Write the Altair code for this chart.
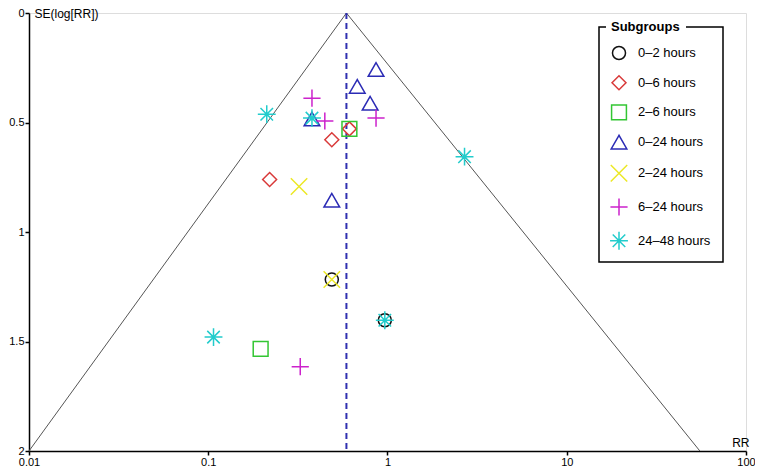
import altair as alt
import pandas as pd

# ---- data ----
subgroups = ["0–2 hours", "0–6 hours", "2–6 hours", "0–24 hours",
             "2–24 hours", "6–24 hours", "24–48 hours"]

point_group = ["0–2 hours", "0–2 hours",
               "0–6 hours", "0–6 hours", "0–6 hours",
               "2–6 hours", "2–6 hours",
               "0–24 hours", "0–24 hours", "0–24 hours", "0–24 hours", "0–24 hours",
               "2–24 hours", "2–24 hours",
               "6–24 hours", "6–24 hours", "6–24 hours", "6–24 hours",
               "24–48 hours", "24–48 hours", "24–48 hours", "24–48 hours", "24–48 hours"]
point_rr = [0.489, 0.966,
            0.613, 0.489, 0.220,
            0.613, 0.196,
            0.863, 0.678, 0.800, 0.379, 0.489,
            0.321, 0.489,
            0.379, 0.447, 0.863, 0.326,
            0.212, 0.379, 2.69, 0.966, 0.107]
point_se = [1.217, 1.403,
            0.529, 0.579, 0.760,
            0.529, 1.534,
            0.258, 0.335, 0.412, 0.484, 0.855,
            0.792, 1.217,
            0.389, 0.493, 0.480, 1.615,
            0.462, 0.480, 0.656, 1.403, 1.480]

pooled_rr = 0.59
funnel_rr = [0.01, 0.59, 55.3]
funnel_se = [2.0, 0.0, 2.0]

x_ticks = [0.01, 0.1, 1, 10, 100]
y_ticks = [0, 0.5, 1, 1.5, 2]

# ---- styles ----
colors = ["#111111", "#d93a3a", "#33c633", "#2b2bb5", "#ece826", "#cc22cc", "#22cccc"]
shapes = ["circle", "diamond", "square", "triangle-up",
          "M-1,-1L1,1M-1,1L1,-1",
          "M-1,0L1,0M0,-1L0,1",
          "M-1,0L1,0M0,-1L0,1M-0.7,-0.7L0.7,0.7M-0.7,0.7L0.7,-0.7"]
sizes = [170, 320, 150, 300, 120, 130, 140]

FONT = "Liberation Sans"
W, H = 717, 438

pts_df = pd.DataFrame({"group": point_group, "rr": point_rr, "se": point_se})
funnel_df = pd.DataFrame({"rr": funnel_rr, "se": funnel_se, "order": [0, 1, 2]})
pooled_df = pd.DataFrame({"rr": [pooled_rr], "se": [0.0], "se2": [2.0]})

xscale = alt.Scale(type="log", domain=[0.01, 100])
yscale = alt.Scale(domain=[0, 2], reverse=True, nice=False, zero=False)

common_axis = dict(titleAngle=0, titleFontWeight="normal", titleFontSize=12, titleFont=FONT,
                   titleColor="black", labelFont=FONT, labelFontSize=11, labelColor="black",
                   labelPadding=1, labelFlush=False, labelOverlap=False,
                   tickSize=4, tickWidth=1.5, tickColor="black",
                   domainColor="black", domainWidth=1.5, grid=False, format="~g")

xaxis = alt.Axis(values=x_ticks, title="RR", titleX=W + 3, titleY=-5,
                 titleAlign="right", titleBaseline="alphabetic", **common_axis)
yaxis = alt.Axis(values=y_ticks, title="SE(log[RR])", titleX=5, titleY=-5,
                 titleAlign="left", titleBaseline="top", **common_axis)

funnel = alt.Chart(funnel_df).mark_line(color="#555555", strokeWidth=1).encode(
    x=alt.X("rr:Q", scale=xscale, axis=xaxis),
    y=alt.Y("se:Q", scale=yscale, axis=yaxis),
    order="order:Q",
)

pooled = alt.Chart(pooled_df).mark_rule(color="#3030b0", strokeWidth=2, strokeDash=[6, 4]).encode(
    x="rr:Q", y="se:Q", y2="se2:Q"
)

FX0, FX1, FY0, FY1 = 570, 694, 14, 249   # legend frame (plot-relative pixels)

points = alt.Chart(pts_df).mark_point(filled=False, strokeWidth=1.5, opacity=1).encode(
    x="rr:Q",
    y="se:Q",
    color=alt.Color("group:N", scale=alt.Scale(domain=subgroups, range=colors),
                    legend=alt.Legend(title=None, orient="none", legendX=FX0 + 10, legendY=FY0 + 18.5,
                                      labelFont=FONT, labelFontSize=13, labelColor="black",
                                      symbolStrokeWidth=1.5, rowPadding=9.2, labelOffset=9,
                                      padding=0)),
    shape=alt.Shape("group:N", scale=alt.Scale(domain=subgroups, range=shapes)),
    size=alt.Size("group:N", scale=alt.Scale(domain=subgroups, range=sizes)),
)

one = alt.Data(values=[{"k": 1}])
frame = alt.Chart(one).mark_rect(fillOpacity=0, stroke="black", strokeWidth=1.5).encode(
    x=alt.value(FX0), x2=alt.value(FX1), y=alt.value(FY0), y2=alt.value(FY1)
)
gap = alt.Chart(one).mark_rect(fill="white").encode(
    x=alt.value(FX0 + 7), x2=alt.value(FX0 + 87), y=alt.value(FY0 - 6), y2=alt.value(FY0 + 6)
)
legend_title = alt.Chart(one).mark_text(text="Subgroups", font=FONT, fontSize=13,
                                        fontWeight="bold", align="left", baseline="middle",
                                        color="black").encode(
    x=alt.value(FX0 + 12), y=alt.value(FY0)
)

chart = alt.layer(funnel, pooled, points, frame, gap, legend_title).properties(
    width=W, height=H,
    autosize=alt.AutoSizeParams(type="none"),
    padding={"left": 21, "top": 5, "right": 9, "bottom": 16},
).configure_view(strokeOpacity=0).configure(background="white")

chart.save("out.html", embed_options={"renderer": "svg", "actions": False})
